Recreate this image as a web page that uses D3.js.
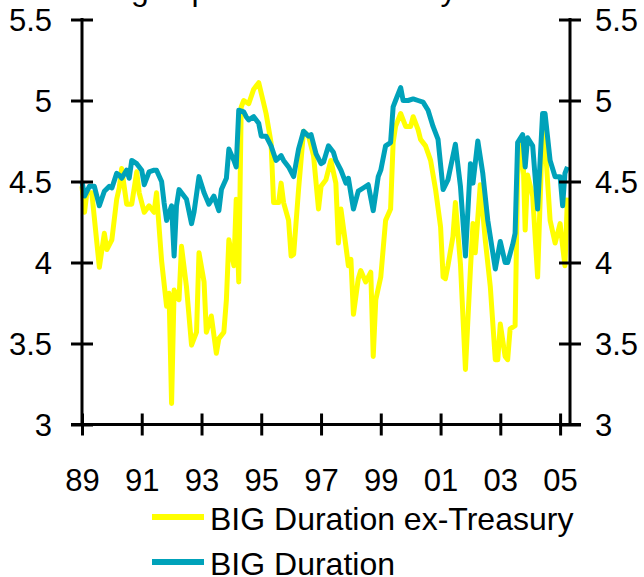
<!DOCTYPE html>
<html>
<head>
<meta charset="utf-8">
<script src="https://cdn.jsdelivr.net/npm/d3@7"></script>
<style>
  html, body { margin: 0; padding: 0; background: #fff; }
  svg { display: block; font-family: "Liberation Sans", Arial, sans-serif; }
</style>
</head>
<body>
<svg id="chart" width="644" height="577"></svg>
<script>
// ---------------- data ----------------
const titleText = "Average spread vs. Treasury";
const seriesNames = ["BIG Duration ex-Treasury", "BIG Duration"];
const yTickValues = [3, 3.5, 4, 4.5, 5, 5.5];
const xTickYears = [1989, 1991, 1993, 1995, 1997, 1999, 2001, 2003, 2005];

const exTsyDates = ["1989-01","1989-02","1989-03","1989-05","1989-08","1989-10","1989-11","1990-01","1990-03","1990-04","1990-05","1990-07","1990-09","1990-11","1990-12","1991-02","1991-04","1991-06","1991-07","1991-09","1991-11","1991-12","1992-01","1992-02","1992-04","1992-05","1992-07","1992-09","1992-11","1992-12","1993-02","1993-03","1993-05","1993-07","1993-08","1993-10","1993-11","1993-12","1994-02","1994-03","1994-04","1994-05","1994-06","1994-08","1994-10","1994-12","1995-02","1995-03","1995-05","1995-06","1995-08","1995-09","1995-10","1995-12","1996-01","1996-02","1996-04","1996-06","1996-08","1996-10","1996-12","1997-01","1997-03","1997-05","1997-07","1997-08","1997-09","1997-11","1997-12","1998-01","1998-02","1998-04","1998-05","1998-07","1998-09","1998-10","1998-11","1999-01","1999-03","1999-05","1999-06","1999-07","1999-09","1999-11","2000-01","2000-02","2000-04","2000-05","2000-07","2000-09","2000-11","2001-01","2001-02","2001-03","2001-04","2001-06","2001-07","2001-09","2001-11","2002-01","2002-02","2002-03","2002-05","2002-07","2002-09","2002-11","2002-12","2003-01","2003-03","2003-04","2003-05","2003-07","2003-08","2003-10","2003-11","2003-12","2004-02","2004-04","2004-06","2004-07","2004-09","2004-11","2005-01","2005-02","2005-03","2005-04"];
const exTsyValues = [4.47,4.31,4.43,4.43,3.97,4.18,4.08,4.14,4.39,4.46,4.58,4.36,4.36,4.56,4.43,4.31,4.35,4.31,4.43,4.01,3.73,3.81,3.13,3.83,3.77,4.10,3.85,3.49,3.57,4.06,3.88,3.57,3.67,3.44,3.53,3.57,3.77,4.14,3.98,4.39,3.88,4.96,5.00,4.98,5.07,5.11,4.98,4.92,4.74,4.37,4.37,4.49,4.37,4.26,4.04,4.05,4.45,4.81,4.78,4.66,4.33,4.47,4.51,4.63,4.49,4.12,4.33,4.10,3.98,4.02,3.68,3.90,3.95,3.88,3.94,3.42,3.77,3.91,4.26,4.33,4.74,4.84,4.92,4.84,4.84,4.90,4.82,4.76,4.72,4.63,4.45,4.22,3.91,3.90,3.98,4.16,4.37,3.99,3.34,3.96,4.24,4.06,4.48,4.14,3.85,3.40,3.40,3.62,3.42,3.40,3.59,3.61,4.54,4.76,4.20,4.54,4.41,3.91,4.84,4.74,4.26,4.12,4.24,4.10,3.98,4.40];

const bigDates = ["1989-01","1989-02","1989-04","1989-06","1989-08","1989-10","1989-12","1990-01","1990-03","1990-04","1990-05","1990-07","1990-08","1990-09","1990-11","1991-01","1991-02","1991-04","1991-06","1991-07","1991-09","1991-10","1991-11","1992-01","1992-02","1992-03","1992-04","1992-07","1992-09","1992-10","1992-12","1993-02","1993-04","1993-06","1993-08","1993-09","1993-11","1993-12","1994-02","1994-03","1994-04","1994-06","1994-07","1994-08","1994-10","1994-12","1995-01","1995-03","1995-05","1995-07","1995-09","1995-10","1995-12","1996-02","1996-04","1996-06","1996-08","1996-09","1996-11","1997-01","1997-02","1997-04","1997-06","1997-07","1997-09","1997-11","1997-12","1998-02","1998-04","1998-06","1998-08","1998-10","1998-12","1999-01","1999-03","1999-05","1999-06","1999-07","1999-09","1999-10","1999-12","2000-02","2000-04","2000-06","2000-08","2000-10","2000-12","2001-02","2001-04","2001-07","2001-09","2001-11","2002-01","2002-02","2002-04","2002-06","2002-08","2002-11","2003-01","2003-03","2003-04","2003-06","2003-07","2003-08","2003-10","2003-11","2003-12","2004-02","2004-04","2004-06","2004-07","2004-09","2004-11","2005-01","2005-02","2005-03","2005-04"];
const bigValues = [4.50,4.41,4.47,4.47,4.35,4.44,4.47,4.46,4.55,4.54,4.52,4.57,4.52,4.63,4.61,4.57,4.48,4.56,4.57,4.57,4.50,4.37,4.26,4.35,4.04,4.35,4.45,4.39,4.24,4.31,4.53,4.43,4.36,4.41,4.32,4.45,4.52,4.70,4.63,4.59,4.94,4.93,4.90,4.88,4.90,4.86,4.78,4.78,4.72,4.63,4.66,4.63,4.59,4.53,4.70,4.81,4.78,4.79,4.67,4.61,4.62,4.72,4.68,4.63,4.57,4.49,4.52,4.33,4.44,4.46,4.48,4.32,4.53,4.57,4.72,4.74,4.96,5.00,5.08,5.00,5.00,5.01,5.00,4.99,4.94,4.84,4.76,4.45,4.51,4.73,4.47,4.04,4.61,4.49,4.75,4.55,4.26,3.96,4.13,4.00,4.00,4.11,4.18,4.74,4.79,4.59,4.77,4.72,4.33,4.92,4.92,4.63,4.53,4.53,4.35,4.55,4.59];

const seriesColors = ["#FFFF00", "#00A2BA"];

(function () {
// ---------------- layout ----------------
const plotL = 82, plotR = 570, plotT = 19.5, plotB = 424.5;
const parse = d3.timeParse("%Y-%m");

const svg = d3.select("#chart");

const x = d3.scaleTime()
  .domain([new Date(1989, 0, 1), new Date(2005, 4, 2)])
  .range([plotL, plotR]);
const y = d3.scaleLinear().domain([3, 5.5]).range([plotB, plotT]);

// title (mostly cut off at top)
svg.append("text")
  .attr("x", 48).attr("y", 0)
  .attr("font-size", 32).attr("fill", "#000")
  .text(titleText);

// series
const line = d3.line()
  .x(d => x(d.date))
  .y(d => y(d.value));

const series = [
  exTsyDates.map((d, i) => ({ date: parse(d), value: exTsyValues[i] })),
  bigDates.map((d, i) => ({ date: parse(d), value: bigValues[i] }))
];

series.forEach((s, i) => {
  svg.append("path")
    .datum(s)
    .attr("fill", "none")
    .attr("stroke", seriesColors[i])
    .attr("stroke-width", 5)
    .attr("stroke-linejoin", "round")
    .attr("d", line);
});

// axes
const axisW = 3;
const tickLen = 11;
const fontFam = "Liberation Sans, Arial, sans-serif";

// left axis
const leftAxis = d3.axisLeft(y).tickValues(yTickValues).tickSizeInner(tickLen).tickSizeOuter(0).tickFormat(d3.format(""));
const gl = svg.append("g").attr("transform", `translate(${plotL},0)`).call(leftAxis);
gl.select(".domain").attr("stroke", "#000").attr("stroke-width", axisW).attr("d", `M0,${plotT - 1.5}V${plotB}`);
gl.selectAll(".tick line").attr("stroke", "#000").attr("stroke-width", axisW).attr("x1", tickLen).attr("x2", -tickLen);
gl.selectAll(".tick text").attr("font-size", 31).attr("fill", "#000").attr("font-family", fontFam).attr("x", -30).attr("dy", "0.36em");

// right axis
const rightAxis = d3.axisRight(y).tickValues(yTickValues).tickSizeInner(tickLen).tickSizeOuter(0).tickFormat(d3.format(""));
const gr = svg.append("g").attr("transform", `translate(${plotR},0)`).call(rightAxis);
gr.select(".domain").attr("stroke", "#000").attr("stroke-width", axisW).attr("d", `M0,${plotT - 1.5}V${plotB}`);
gr.selectAll(".tick line").attr("stroke", "#000").attr("stroke-width", axisW).attr("x1", -tickLen).attr("x2", tickLen);
gr.selectAll(".tick text").attr("font-size", 31).attr("fill", "#000").attr("font-family", fontFam).attr("x", 25).attr("dy", "0.36em");

// bottom axis
const bottomAxis = d3.axisBottom(x)
  .tickValues(xTickYears.map(yr => new Date(yr, 0, 1)))
  .tickSizeInner(tickLen).tickSizeOuter(0)
  .tickFormat(d3.timeFormat("%y"));
const gb = svg.append("g").attr("transform", `translate(0,${plotB})`).call(bottomAxis);
gb.select(".domain").attr("stroke", "#000").attr("stroke-width", axisW).attr("d", `M${plotL - 11},0H${plotR + 11}`);
gb.selectAll(".tick line").attr("stroke", "#000").attr("stroke-width", axisW).attr("y1", -tickLen).attr("y2", tickLen);
gb.selectAll(".tick text").attr("font-size", 31).attr("fill", "#000").attr("font-family", fontFam).attr("y", 44).attr("dy", "0.71em");

// legend
const legendX = 152, legendY = [517, 562];
seriesNames.forEach((name, i) => {
  svg.append("line")
    .attr("x1", legendX).attr("x2", legendX + 52)
    .attr("y1", legendY[i]).attr("y2", legendY[i])
    .attr("stroke", seriesColors[i]).attr("stroke-width", 6);
  svg.append("text")
    .attr("x", legendX + 58).attr("y", legendY[i] + 13)
    .attr("font-size", 32).attr("fill", "#000")
    .text(name);
});
})();
</script>
</body>
</html>
